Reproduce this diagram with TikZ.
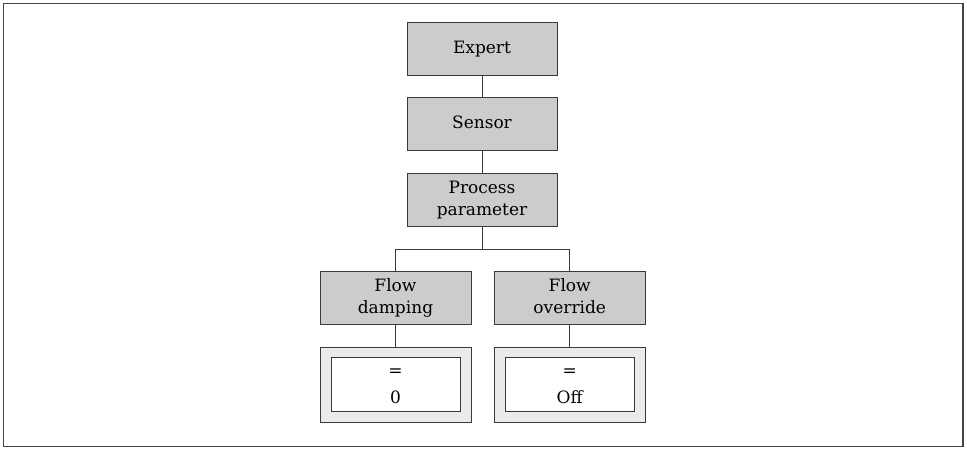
\documentclass[tikz,border=0pt]{standalone}
\usepackage{fontspec}
\setmainfont{DejaVu Serif}
\definecolor{boxgray}{HTML}{CCCCCC}
\definecolor{valgray}{HTML}{EAEBEB}
\definecolor{linegray}{HTML}{3A3A3A}
\definecolor{framegray}{HTML}{444444}
\begin{document}
\begin{tikzpicture}[x=1pt,y=-1pt,
  menubox/.style={draw=linegray, fill=boxgray, line width=1pt, minimum width=150pt, minimum height=52.5pt, inner sep=0pt, align=center, font=\fontsize{17}{22}\selectfont},
  valouter/.style={draw=linegray, fill=valgray, line width=1pt, minimum width=151pt, minimum height=75pt, inner sep=0pt},
  valinner/.style={draw=linegray, fill=white, line width=1pt, minimum width=129pt, minimum height=53.5pt, inner sep=0pt, align=center, font=\fontsize{17}{27}\selectfont},
  conn/.style={draw=linegray, line width=0.9pt}]
\useasboundingbox (0,0) rectangle (967,448);
\draw[framegray, line width=1.7pt] (3.5,3.5) rectangle (963,446.5);
\node[menubox] (expert) at (482,48.75) {Expert\strut};
\node[menubox] (sensor) at (482,124) {Sensor\strut};
\node[menubox] (process) at (482,199.75) {\strut Process\\parameter\strut};
\node[menubox, minimum width=151pt] (fd) at (395.5,298) {\strut Flow\\damping\strut};
\node[menubox, minimum width=151pt] (fo) at (569.75,298) {\strut Flow\\override\strut};
\node[valouter] (vdo) at (395.5,384.8) {};
\node[valinner] (vdi) at (395.5,384.8) {\strut=\\0\strut};
\node[valouter] (voo) at (569.75,384.8) {};
\node[valinner] (voi) at (569.75,384.8) {\strut=\\Off\strut};
\coordinate (br) at (482,249);
\draw[conn] (expert) -- (sensor);
\draw[conn] (sensor) -- (process);
\draw[conn] (process) -- (br);
\draw[conn] (br) -| (fd.north);
\draw[conn] (br) -| (fo.north);
\draw[conn] (fd) -- (vdo);
\draw[conn] (fo) -- (voo);
\end{tikzpicture}
\end{document}
